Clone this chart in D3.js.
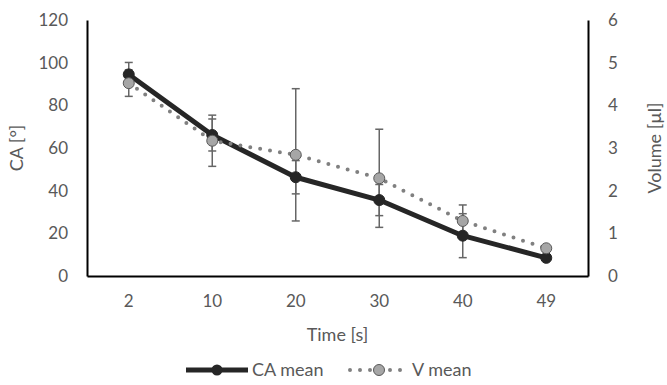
<!DOCTYPE html>
<html>
<head>
<meta charset="utf-8">
<script src="https://cdn.jsdelivr.net/npm/d3@7/dist/d3.min.js"></script>
<style>
  html, body { margin: 0; padding: 0; background: #fff; }
  svg { display: block; font-family: Lato, "Open Sans", sans-serif; }
</style>
</head>
<body>
<svg id="chart" width="667" height="385"></svg>
<script>
// Contact angle and droplet volume over time
const times = ["2", "10", "20", "30", "40", "49"];
const caMean = [94.5, 66.1, 46.3, 35.6, 18.9, 8.5];
const caErr  = [5.6, 7.5, 7.8, 7.3, 10.3, 1.0];
const vMean  = [4.52, 3.17, 2.84, 2.29, 1.29, 0.65];
const vErr   = [0.31, 0.60, 1.55, 1.15, 0.375, 0.05];
const caTicks = [0, 20, 40, 60, 80, 100, 120];
const vTicks  = [0, 1, 2, 3, 4, 5, 6];

const svg = d3.select("#chart");
const plotLeft = 87, plotRight = 588, plotTop = 20, plotBottom = 276;

const x = d3.scaleBand().domain(times).range([plotLeft, plotRight]).padding(0);
const cx = d => x(d) + x.bandwidth() / 2;
const yL = d3.scaleLinear().domain([0, 120]).range([plotBottom, plotTop]);
const yR = d3.scaleLinear().domain([0, 6]).range([plotBottom, plotTop]);

const textColor = "#595959";

// Axes
function styleAxis(g) {
  g.select(".domain").attr("stroke", "#000").attr("stroke-width", 2);
  g.selectAll("text").attr("fill", textColor).style("font-size", "17px")
    .style("font-family", "Lato, 'Open Sans', sans-serif");
}
svg.append("g").attr("transform", `translate(${plotLeft},0)`)
  .call(d3.axisLeft(yL).tickValues(caTicks).tickFormat(d3.format("d"))
    .tickSize(0).tickSizeOuter(0).tickPadding(19))
  .call(styleAxis);
svg.append("g").attr("transform", `translate(${plotRight},0)`)
  .call(d3.axisRight(yR).tickValues(vTicks).tickFormat(d3.format("d"))
    .tickSize(0).tickSizeOuter(0).tickPadding(20))
  .call(styleAxis);
svg.append("g").attr("transform", `translate(0,${plotBottom})`)
  .call(d3.axisBottom(x).tickSize(0).tickSizeOuter(0).tickPadding(19))
  .call(styleAxis);

// Axis titles
svg.append("text").attr("transform", `translate(23,${(plotTop + plotBottom) / 2}) rotate(-90)`)
  .attr("text-anchor", "middle").attr("fill", textColor).style("font-size", "18px")
  .text("CA [°]");
svg.append("text").attr("transform", `translate(661,${(plotTop + plotBottom) / 2}) rotate(-90)`)
  .attr("text-anchor", "middle").attr("fill", textColor).style("font-size", "18px")
  .text("Volume [µl]");
svg.append("text").attr("x", (plotLeft + plotRight) / 2).attr("y", 341)
  .attr("text-anchor", "middle").attr("fill", textColor).style("font-size", "18px")
  .text("Time [s]");

// Error bars
function errorBars(means, errs, y) {
  const g = svg.append("g").attr("stroke", "#666").attr("stroke-width", 1.5).attr("fill", "none");
  times.forEach((t, i) => {
    const x0 = cx(t), lo = y(means[i] - errs[i]), hi = y(means[i] + errs[i]);
    g.append("line").attr("x1", x0).attr("x2", x0).attr("y1", lo).attr("y2", hi);
    g.append("line").attr("x1", x0 - 4).attr("x2", x0 + 4).attr("y1", lo).attr("y2", lo);
    g.append("line").attr("x1", x0 - 4).attr("x2", x0 + 4).attr("y1", hi).attr("y2", hi);
  });
}
errorBars(caMean, caErr, yL);
errorBars(vMean, vErr, yR);

// CA mean series
const caLine = d3.line().x((d, i) => cx(times[i])).y(d => yL(d));
svg.append("path").datum(caMean).attr("d", caLine)
  .attr("fill", "none").attr("stroke", "#262626").attr("stroke-width", 5)
  .attr("stroke-linejoin", "round");
svg.append("g").selectAll("circle").data(caMean).join("circle")
  .attr("cx", (d, i) => cx(times[i])).attr("cy", d => yL(d)).attr("r", 5.5)
  .attr("fill", "#262626").attr("stroke", "#262626").attr("stroke-width", 1);

// V mean series
const vLine = d3.line().x((d, i) => cx(times[i])).y(d => yR(d));
svg.append("path").datum(vMean).attr("d", vLine)
  .attr("fill", "none").attr("stroke", "#808080").attr("stroke-width", 4)
  .attr("stroke-linecap", "round").attr("stroke-dasharray", "0 10");
svg.append("g").selectAll("circle").data(vMean).join("circle")
  .attr("cx", (d, i) => cx(times[i])).attr("cy", d => yR(d)).attr("r", 5.5)
  .attr("fill", "#a6a6a6").attr("stroke", "#595959").attr("stroke-width", 1);

// Legend
const ly = 370;
const lg = svg.append("g");
lg.append("line").attr("x1", 186).attr("x2", 248).attr("y1", ly).attr("y2", ly)
  .attr("stroke", "#262626").attr("stroke-width", 5);
lg.append("circle").attr("cx", 217).attr("cy", ly).attr("r", 5.5).attr("fill", "#262626");
lg.append("text").attr("x", 252).attr("y", ly + 6).attr("fill", textColor)
  .style("font-size", "18px").text("CA mean");
lg.append("line").attr("x1", 350).attr("x2", 408).attr("y1", ly).attr("y2", ly)
  .attr("stroke", "#808080").attr("stroke-width", 4)
  .attr("stroke-linecap", "round").attr("stroke-dasharray", "0 10");
lg.append("circle").attr("cx", 379).attr("cy", ly).attr("r", 5.5)
  .attr("fill", "#a6a6a6").attr("stroke", "#595959").attr("stroke-width", 1);
lg.append("text").attr("x", 412).attr("y", ly + 6).attr("fill", textColor)
  .style("font-size", "18px").text("V mean");
</script>
</body>
</html>
